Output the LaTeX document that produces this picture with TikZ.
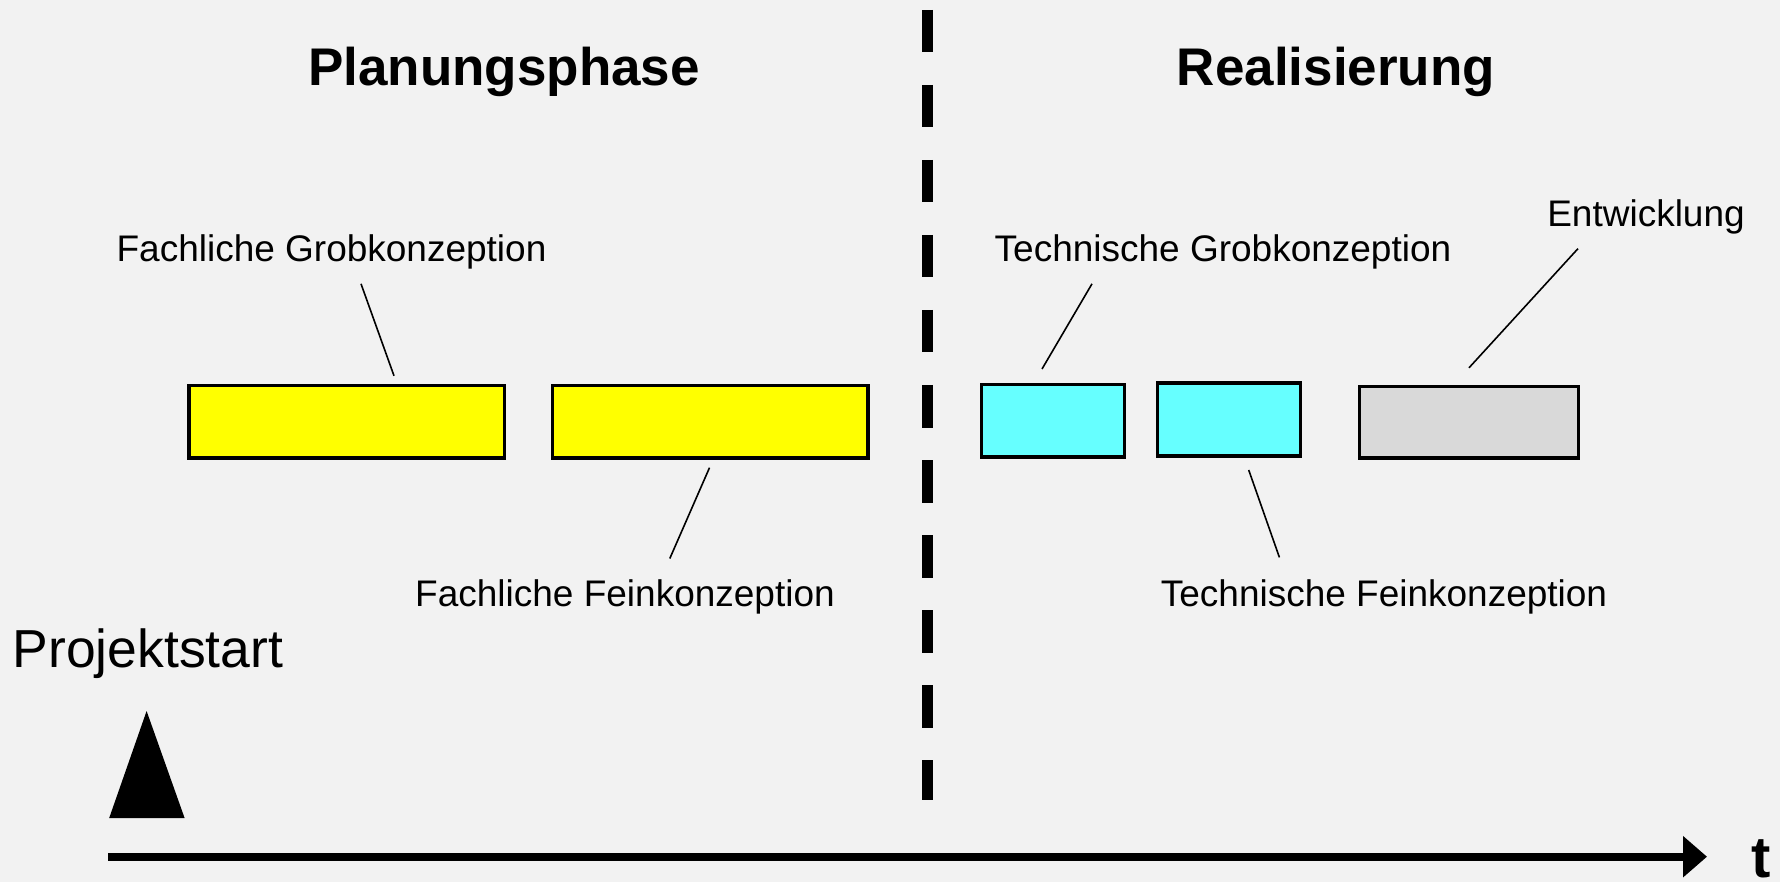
\documentclass[tikz,border=0pt]{standalone}
\usepackage{fontspec}
\setmainfont{Liberation Sans}
\usetikzlibrary{arrows.meta}
\definecolor{bgc}{HTML}{F2F2F2}
\definecolor{boxyellow}{HTML}{FFFF00}
\definecolor{boxcyan}{HTML}{66FFFF}
\definecolor{boxgray}{HTML}{D9D9D9}
\tikzset{
  phasebox/.style={draw=black, line width=3.4pt, inner sep=0pt, minimum height=72.7pt},
  lbl/.style={anchor=base, inner sep=0pt, font=\fontsize{37}{44}\selectfont},
  ttl/.style={anchor=base, inner sep=0pt, font=\fontsize{53}{60}\selectfont\bfseries},
  leader/.style={draw=black, line width=1.6pt},
  divider/.style={draw=black, line width=11pt, dash pattern=on 42.5pt off 32.5pt},
}
\begin{document}
\begin{tikzpicture}[x=1pt,y=-1pt]
\fill[bgc] (0,0) rectangle (1780,882);
\useasboundingbox (0,0) rectangle (1780,882);
% divider
\coordinate (dtop) at (927.8,10);
\coordinate (dbot) at (927.8,800);
\draw[divider] (dtop) -- (dbot);
% titles
\node[ttl] (plan) at (504,86) {Planungsphase};
\node[ttl] (real) at (1336,86) {Realisierung};
% boxes
\node[phasebox, fill=boxyellow, minimum width=315.6pt] (fg) at (346.8,421.8) {};
\node[phasebox, fill=boxyellow, minimum width=315.6pt] (ff) at (710.1,421.8) {};
\node[phasebox, fill=boxcyan, minimum width=143pt] (tg) at (1052.9,420.6) {};
\node[phasebox, fill=boxcyan, minimum width=143pt] (tf) at (1228.9,419.5) {};
\node[phasebox, fill=boxgray, minimum width=219pt, minimum height=71.6pt] (ent) at (1469,422.3) {};
% labels
\node[lbl] (lfg) at (331.5,261.5) {Fachliche Grobkonzeption};
\node[lbl] (lff) at (625,606.7) {Fachliche Feinkonzeption};
\node[lbl] (ltg) at (1223,261.5) {Technische Grobkonzeption};
\node[lbl] (ltf) at (1384,606.7) {Technische Feinkonzeption};
\node[lbl] (lent) at (1646,227) {Entwicklung};
% leader lines
\coordinate (a1) at (361,283.8); \coordinate (a2) at (394,375.8);
\coordinate (b1) at (709.5,467.7); \coordinate (b2) at (669.8,558.5);
\coordinate (c1) at (1092,283.8); \coordinate (c2) at (1042,369);
\coordinate (d1) at (1578,248.6); \coordinate (d2) at (1469,367.8);
\coordinate (e1) at (1248.7,470); \coordinate (e2) at (1279.4,557.4);
\draw[leader] (a1) -- (a2);
\draw[leader] (b1) -- (b2);
\draw[leader] (c1) -- (c2);
\draw[leader] (d1) -- (d2);
\draw[leader] (e1) -- (e2);
% project start
\node[anchor=base, inner sep=0pt, font=\fontsize{53.5}{60}\selectfont] (ps) at (148,667) {Projektstart};
\coordinate (tapex) at (146.6,711);
\coordinate (tl) at (109.2,818);
\coordinate (tr) at (184.6,818);
\fill[black] (tapex) -- (tr) -- (tl) -- cycle;
% time axis
\coordinate (ax0) at (108.3,856.7);
\coordinate (ax1) at (1707,856.7);
\draw[line width=8pt, -{Triangle[length=24pt,width=40pt]}] (ax0) -- (ax1);
\node[anchor=base, inner sep=0pt, font=\fontsize{58}{64}\selectfont\bfseries] (tt) at (1761,877) {t};
\end{tikzpicture}
\end{document}
